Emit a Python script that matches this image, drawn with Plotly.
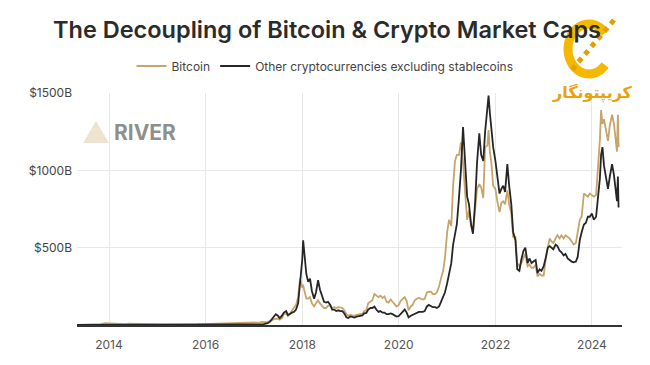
import math
import plotly.graph_objects as go

# ---- data (USD billions) ----
dates = [
    "2013-05-01","2013-06-01","2013-07-01","2013-08-01","2013-09-01","2013-10-01","2013-11-01","2013-12-01",
    "2014-01-01","2014-02-01","2014-03-01","2014-04-01","2014-05-01","2014-06-01","2014-07-01","2014-08-01",
    "2014-09-01","2014-10-01","2014-11-01","2014-12-01",
    "2015-01-01","2015-02-01","2015-03-01","2015-04-01","2015-05-01","2015-06-01","2015-07-01","2015-08-01",
    "2015-09-01","2015-10-01","2015-11-01","2015-12-01",
    "2016-01-01","2016-02-01","2016-03-01","2016-04-01","2016-05-01","2016-06-01","2016-07-01","2016-08-01",
    "2016-09-01","2016-10-01","2016-11-01","2016-12-01",
    "2017-01-01","2017-01-15","2017-02-01","2017-02-15","2017-03-01","2017-03-15","2017-04-01","2017-04-15",
    "2017-05-01","2017-05-15","2017-06-01","2017-06-15","2017-07-01","2017-07-15","2017-08-01","2017-08-15",
    "2017-09-01","2017-09-15","2017-10-01","2017-10-15","2017-11-01","2017-11-15","2017-12-01","2017-12-15",
    "2018-01-01","2018-01-08","2018-01-15","2018-02-01","2018-02-15","2018-03-01","2018-03-15","2018-04-01",
    "2018-04-15","2018-05-01","2018-05-15","2018-06-01","2018-06-15","2018-07-01","2018-07-15","2018-08-01",
    "2018-08-15","2018-09-01","2018-09-15","2018-10-01","2018-10-15","2018-11-01","2018-11-15","2018-12-01",
    "2018-12-15",
    "2019-01-01","2019-01-15","2019-02-01","2019-02-15","2019-03-01","2019-03-15","2019-04-01","2019-04-15",
    "2019-05-01","2019-05-15","2019-06-01","2019-06-15","2019-07-01","2019-07-15","2019-08-01","2019-08-15",
    "2019-09-01","2019-09-15","2019-10-01","2019-10-15","2019-11-01","2019-11-15","2019-12-01","2019-12-15",
    "2020-01-01","2020-01-15","2020-02-01","2020-02-15","2020-03-01","2020-03-15","2020-04-01","2020-04-15",
    "2020-05-01","2020-05-15","2020-06-01","2020-06-15","2020-07-01","2020-07-15","2020-08-01","2020-08-15",
    "2020-09-01","2020-09-15","2020-10-01","2020-10-15","2020-11-01","2020-11-15","2020-12-01","2020-12-15",
    "2021-01-01","2021-01-15","2021-02-01","2021-02-15","2021-03-01","2021-03-15","2021-04-01","2021-04-15",
    "2021-05-01","2021-05-15","2021-06-01","2021-06-15","2021-07-01","2021-07-15","2021-08-01","2021-08-15",
    "2021-09-01","2021-09-15","2021-10-01","2021-10-15","2021-11-01","2021-11-10","2021-11-20","2021-12-01",
    "2021-12-15",
    "2022-01-01","2022-01-15","2022-02-01","2022-02-15","2022-03-01","2022-03-15","2022-04-01","2022-04-15",
    "2022-05-01","2022-05-15","2022-06-01","2022-06-15","2022-07-01","2022-07-15","2022-08-01","2022-08-15",
    "2022-09-01","2022-09-15","2022-10-01","2022-10-15","2022-11-01","2022-11-15","2022-12-01","2022-12-15",
    "2023-01-01","2023-01-15","2023-02-01","2023-02-15","2023-03-01","2023-03-15","2023-04-01","2023-04-15",
    "2023-05-01","2023-05-15","2023-06-01","2023-06-15","2023-07-01","2023-07-15","2023-08-01","2023-08-15",
    "2023-09-01","2023-09-15","2023-10-01","2023-10-15","2023-11-01","2023-11-15","2023-12-01","2023-12-15",
    "2024-01-01","2024-01-15","2024-02-01","2024-02-15","2024-03-01","2024-03-10","2024-03-20","2024-04-01",
    "2024-04-15","2024-05-01","2024-05-15","2024-06-01","2024-06-15","2024-07-01","2024-07-08","2024-07-15",
    "2024-07-20",
]

bitcoin = [
    1.3,1.2,1.0,1.2,1.5,2,5,12,
    10,8,7,5,6,8,7,6,5,4,4,4,
    3.5,3.2,3.5,3.2,3.4,3.6,4,3.4,3.4,4,5,6,
    6.5,6.5,6.5,7,8,10,10,9.5,9.5,10.5,11.5,14,
    15,15,16,17,20,18,18,20,
    24,30,38,42,42,35,45,70,
    75,58,72,92,110,130,180,300,
    240,260,230,170,170,180,140,120,
    140,160,140,125,110,110,125,125,
    110,115,110,115,112,110,95,70,
    60,
    65,63,60,65,67,70,73,90,
    95,140,150,160,200,190,180,190,
    175,185,150,145,165,150,130,120,
    130,155,170,180,155,95,120,130,
    160,170,175,170,165,170,210,215,
    215,200,200,210,250,300,350,430,
    600,680,640,900,1060,1100,1100,1180,
    1050,880,680,740,640,600,770,880,
    910,890,820,1150,1160,1260,1120,1050,
    900,
    880,800,730,790,800,780,870,780,
    720,570,570,400,380,400,440,460,
    380,390,370,370,390,315,330,320,
    320,420,500,560,540,530,560,580,
    560,580,560,580,570,560,540,520,
    530,600,680,700,850,840,830,850,
    840,830,840,1020,1200,1390,1300,1330,
    1250,1190,1290,1360,1300,1150,1120,1360,
    1150,
]

other_crypto = [
    0.3,0.3,0.3,0.3,0.4,0.5,1.0,2.5,
    2.5,2.0,1.8,1.3,1.2,1.2,1.0,0.9,0.8,0.7,0.6,0.6,
    0.6,0.6,0.6,0.6,0.6,0.6,0.8,0.9,0.8,0.8,0.9,1.0,
    1.2,1.5,2.5,2.5,2.5,3.5,3.5,3,2.5,2.5,2.5,3,
    3,3,3,3,4,6,8,12,
    20,40,55,70,60,45,60,80,
    90,65,75,80,85,100,140,250,
    420,548,470,330,280,300,220,170,
    210,290,230,190,150,145,150,130,
    100,100,90,95,90,90,75,50,
    45,
    55,50,48,55,57,60,62,75,
    78,100,110,110,120,100,85,90,
    80,80,70,70,75,70,60,55,
    58,70,85,100,80,50,60,65,
    75,80,85,85,85,90,120,130,
    120,115,115,110,120,150,190,210,
    270,320,400,520,580,650,830,1000,
    1280,1050,830,780,650,590,800,1050,
    1240,1100,1060,1250,1400,1484,1370,1260,
    1150,
    1060,960,850,880,900,860,1040,900,
    780,600,550,360,350,420,480,500,
    400,430,400,410,420,335,360,350,
    380,430,500,510,500,490,520,510,
    480,470,450,460,430,420,410,405,
    410,440,550,600,650,660,700,700,
    720,680,700,820,950,1100,1150,1030,
    950,880,960,1040,970,830,800,960,
    760,
]

series_names = ["Bitcoin", "Other cryptocurrencies excluding stablecoins"]
series_colors = ["#c6a46a", "#262626"]
y_ticks = [500, 1000, 1500]
y_tick_labels = ["$500B", "$1000B", "$1500B"]
x_ticks = ["2014-01-01", "2016-01-01", "2018-01-01", "2020-01-01", "2022-01-01", "2024-01-01"]
x_tick_labels = ["2014", "2016", "2018", "2020", "2022", "2024"]

FONT = "Inter, 'Noto Sans', sans-serif"

# The page body has an 8px default margin; plot area targets page px 77..622 x 93..325
W, H = 650, 365
ML, MR, MT, MB = 69, 36, 85, 48
PW, PH = W - ML - MR, H - MT - MB


def px(page_x):
    return (page_x - 8 - ML) / PW


def py(page_y):
    return (H - MB - (page_y - 8)) / PH


fig = go.Figure()
for name, vals, col in zip(series_names, [bitcoin, other_crypto], series_colors):
    fig.add_trace(go.Scatter(x=dates, y=vals, name=name, mode="lines",
                             line=dict(color=col, width=1.8)))

fig.update_layout(
    width=W, height=H,
    margin=dict(l=ML, r=MR, t=MT, b=MB),
    paper_bgcolor="white", plot_bgcolor="white",
    font=dict(family=FONT, color="#444", size=12),
    title=dict(text="The Decoupling of Bitcoin &amp; Crypto Market Caps",
               x=(327 - 8) / W, xanchor="center", y=1 - (30 - 8) / H, yanchor="middle",
               font=dict(size=23.5, color="#2b2b2b", family=FONT, weight=600)),
    legend=dict(orientation="h", x=px(325), xanchor="center", y=py(66), yanchor="middle",
                font=dict(size=12, color="#444"), itemwidth=30,
                bgcolor="rgba(0,0,0,0)"),
    showlegend=True,
)

fig.update_xaxes(
    type="date", range=["2013-05-04", "2024-08-15"],
    tickvals=x_ticks, ticktext=x_tick_labels,
    showgrid=True, gridcolor="#e8e8e8", gridwidth=1,
    showline=True, linecolor="#333", linewidth=1.5,
    ticks="", ticklabelstandoff=8, tickfont=dict(size=12, color="#555"),
)
fig.update_yaxes(
    range=[0, 1500],
    tickvals=y_ticks, ticktext=y_tick_labels,
    showgrid=True, gridcolor="#e8e8e8", gridwidth=1,
    zeroline=False, showline=False, ticks="", ticklabelstandoff=4,
    tickfont=dict(size=12, color="#444"),
)

# RIVER watermark (logo triangle + text)
fig.add_shape(type="path", xref="paper", yref="paper",
              path=f"M {px(83)},{py(143)} L {px(96)},{py(121)} L {px(109)},{py(143)} Z",
              fillcolor="rgba(214,196,150,0.45)", line=dict(width=0))
fig.add_annotation(text="<b>RIVER</b>", xref="paper", yref="paper",
                   x=px(112), y=py(132), xanchor="left", yanchor="middle", showarrow=False,
                   font=dict(size=21, color="#8f8f8f", family=FONT))

# Persian publisher logo overlay (top right): a gold "C" with a chain, drawn as shapes
cx, cy, rx, ry = 589, 49, 21, 25
arc_pts = []
for k in range(41):
    t = math.radians(40 + k * (320 - 40) / 40)
    arc_pts.append((cx + rx * math.cos(t), cy - ry * math.sin(t)))
arc_path = "M " + " L ".join(f"{px(x)},{py(y)}" for x, y in arc_pts)
fig.add_shape(type="path", xref="paper", yref="paper", path=arc_path,
              line=dict(color="#f4b800", width=9))
fig.add_shape(type="line", xref="paper", yref="paper",
              x0=px(614), y0=py(20), x1=px(570), y1=py(72),
              line=dict(color="#e2a000", width=5, dash="dot"))
fig.add_annotation(text="<b>کریپتونگار</b>", xref="paper", yref="paper",
                   x=px(592), y=py(92), xanchor="center", yanchor="middle", showarrow=False,
                   font=dict(size=16, color="#e8a20c", family="'Noto Sans', 'DejaVu Sans'"))

fig.write_html("out.html")
